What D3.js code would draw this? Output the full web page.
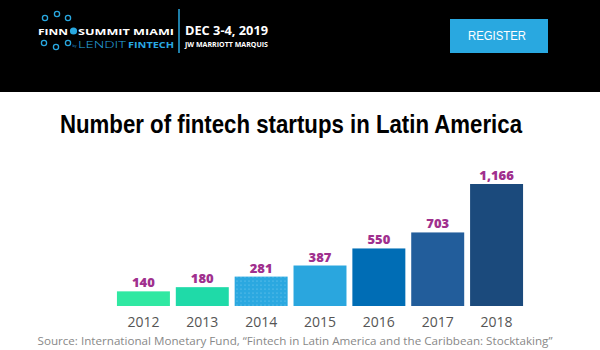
<!DOCTYPE html>
<html>
<head>
<meta charset="utf-8">
<script src="https://cdn.jsdelivr.net/npm/d3@7"></script>
<style>
  body { margin: 0; background: #fff; }
  svg { display: block; }
</style>
</head>
<body>
<div id="chart"></div>
<script>

// data
var years = ["2012", "2013", "2014", "2015", "2016", "2017", "2018"];
var startups = [140, 180, 281, 387, 550, 703, 1166];
var barColors = ["#30e8a2", "#1fdaa8", "#2ba8e0", "#2aa6de", "#006db5", "#225d9b", "#1b4a7c"];

var title = "Number of fintech startups in Latin America";
var source = "Source: International Monetary Fund, \u201cFintech in Latin America and the Caribbean:  Stocktaking\u201d";

var width = 600, height = 350;

var svg = d3.select("#chart").append("svg")
    .attr("width", width)
    .attr("height", height);

// dotted fill used on the 2014 bar
var defs = svg.append("defs");
var pat = defs.append("pattern")
    .attr("id", "dots")
    .attr("width", 4)
    .attr("height", 4)
    .attr("patternUnits", "userSpaceOnUse");
pat.append("rect").attr("width", 4).attr("height", 4).attr("fill", barColors[2]);
pat.append("circle").attr("cx", 1).attr("cy", 1).attr("r", 0.6).attr("fill", "#7fd0f2");

/*
 * Header banner
 */
var header = svg.append("g").attr("class", "header");

header.append("rect")
    .attr("width", width)
    .attr("height", 92)
    .attr("fill", "#000");

// logo rings
var rings = [[45, 18], [57, 14], [68, 18], [44, 43], [56, 47], [68, 43]];
header.selectAll("circle.ring")
    .data(rings)
    .enter().append("circle")
    .attr("class", "ring")
    .attr("cx", function(d) { return d[0]; })
    .attr("cy", function(d) { return d[1]; })
    .attr("r", 2.6)
    .attr("fill", "none")
    .attr("stroke", "#29a8e0")
    .attr("stroke-width", 1.3);

header.append("circle")
    .attr("cx", 73.5).attr("cy", 31).attr("r", 3.6)
    .attr("fill", "#29a8e0");

header.append("text")
    .attr("x", 38).attr("y", 35)
    .attr("font-family", "'Open Sans', sans-serif")
    .attr("font-weight", 700)
    .attr("font-size", 9.5)
    .attr("fill", "#fff")
    .attr("textLength", 30)
    .attr("lengthAdjust", "spacingAndGlyphs")
    .text("FINN");

header.append("text")
    .attr("x", 78).attr("y", 35)
    .attr("font-family", "'Open Sans', sans-serif")
    .attr("font-weight", 700)
    .attr("font-size", 9.5)
    .attr("fill", "#fff")
    .attr("textLength", 96)
    .attr("lengthAdjust", "spacingAndGlyphs")
    .text("SUMMIT MIAMI");

header.append("text")
    .attr("x", 72.5).attr("y", 47)
    .attr("font-family", "'Open Sans', sans-serif")
    .attr("font-size", 3.5)
    .attr("fill", "#29a8e0")
    .text("by");

header.append("text")
    .attr("x", 78).attr("y", 48)
    .attr("font-family", "'Open Sans', sans-serif")
    .attr("font-weight", 300)
    .attr("font-size", 9.5)
    .attr("fill", "#29a8e0")
    .attr("textLength", 48)
    .attr("lengthAdjust", "spacingAndGlyphs")
    .text("LENDIT");

header.append("text")
    .attr("x", 128).attr("y", 48)
    .attr("font-family", "'Open Sans', sans-serif")
    .attr("font-weight", 700)
    .attr("font-size", 9.5)
    .attr("fill", "#29a8e0")
    .attr("textLength", 46)
    .attr("lengthAdjust", "spacingAndGlyphs")
    .text("FINTECH");

header.append("line")
    .attr("x1", 179).attr("x2", 179)
    .attr("y1", 9).attr("y2", 53)
    .attr("stroke", "#29a8e0")
    .attr("stroke-width", 1.5);

header.append("text")
    .attr("x", 185).attr("y", 35)
    .attr("font-family", "'Open Sans', sans-serif")
    .attr("font-weight", 700)
    .attr("font-size", 12)
    .attr("fill", "#fff")
    .attr("textLength", 83)
    .attr("lengthAdjust", "spacingAndGlyphs")
    .text("DEC 3-4, 2019");

header.append("text")
    .attr("x", 185).attr("y", 46.5)
    .attr("font-family", "'Open Sans', sans-serif")
    .attr("font-weight", 700)
    .attr("font-size", 6.5)
    .attr("fill", "#fff")
    .attr("textLength", 83)
    .attr("lengthAdjust", "spacingAndGlyphs")
    .text("JW MARRIOTT MARQUIS");

// register button
header.append("rect")
    .attr("x", 450).attr("y", 19)
    .attr("width", 98).attr("height", 34)
    .attr("fill", "#29a8e0");

header.append("text")
    .attr("x", 497).attr("y", 40)
    .attr("text-anchor", "middle")
    .attr("font-family", "'Liberation Sans', Arial, sans-serif")
    .attr("font-size", 12)
    .attr("fill", "#fff")
    .attr("textLength", 58)
    .attr("lengthAdjust", "spacingAndGlyphs")
    .text("REGISTER");

/*
 * Title
 */
svg.append("text")
    .attr("x", 291).attr("y", 133)
    .attr("text-anchor", "middle")
    .attr("font-family", "'Liberation Sans Narrow', 'Liberation Sans', Arial, sans-serif")
    .attr("font-weight", 700)
    .attr("font-size", 25)
    .attr("fill", "#000")
    .attr("textLength", 462)
    .attr("lengthAdjust", "spacingAndGlyphs")
    .text(title);

/*
 * Bars
 */
var x = d3.scaleBand()
    .domain(years)
    .range([114, 526])
    .paddingInner(0.1)
    .paddingOuter(0.05);

var y = d3.scaleLinear()
    .domain([0, d3.max(startups)])
    .range([306, 184]);

var data = years.map(function(d, i) { return {year: d, value: startups[i], color: barColors[i]}; });

var chart = svg.append("g").attr("class", "bars");

chart.selectAll("rect")
    .data(data)
    .enter().append("rect")
    .attr("x", function(d) { return x(d.year); })
    .attr("y", function(d) { return y(d.value); })
    .attr("width", x.bandwidth())
    .attr("height", function(d) { return y(0) - y(d.value); })
    .attr("fill", function(d) { return d.year === "2014" ? "url(#dots)" : d.color; });

chart.selectAll("text.value")
    .data(data)
    .enter().append("text")
    .attr("class", "value")
    .attr("x", function(d) { return x(d.year) + x.bandwidth() / 2; })
    .attr("y", function(d) { return y(d.value) - 4; })
    .attr("text-anchor", "middle")
    .attr("font-family", "'Open Sans', sans-serif")
    .attr("font-weight", 800)
    .attr("font-size", 13)
    .attr("fill", "#a0308e")
    .text(function(d) { return d3.format(",")(d.value); });

// year axis, no line or ticks
var xAxis = d3.axisBottom(x).tickSize(0).tickPadding(0);

var axisG = svg.append("g")
    .attr("class", "x-axis")
    .attr("transform", "translate(0,317)")
    .call(xAxis);

axisG.select(".domain").remove();
axisG.selectAll("text")
    .attr("font-family", "'Open Sans', sans-serif")
    .attr("font-size", 14)
    .attr("fill", "#555");

/*
 * Source line
 */
svg.append("text")
    .attr("x", 295).attr("y", 345)
    .attr("text-anchor", "middle")
    .attr("font-family", "'Open Sans', sans-serif")
    .attr("font-size", 11.5)
    .attr("fill", "#888")
    .attr("textLength", 515)
    .attr("lengthAdjust", "spacingAndGlyphs")
    .text(source);

</script>
</body>
</html>
